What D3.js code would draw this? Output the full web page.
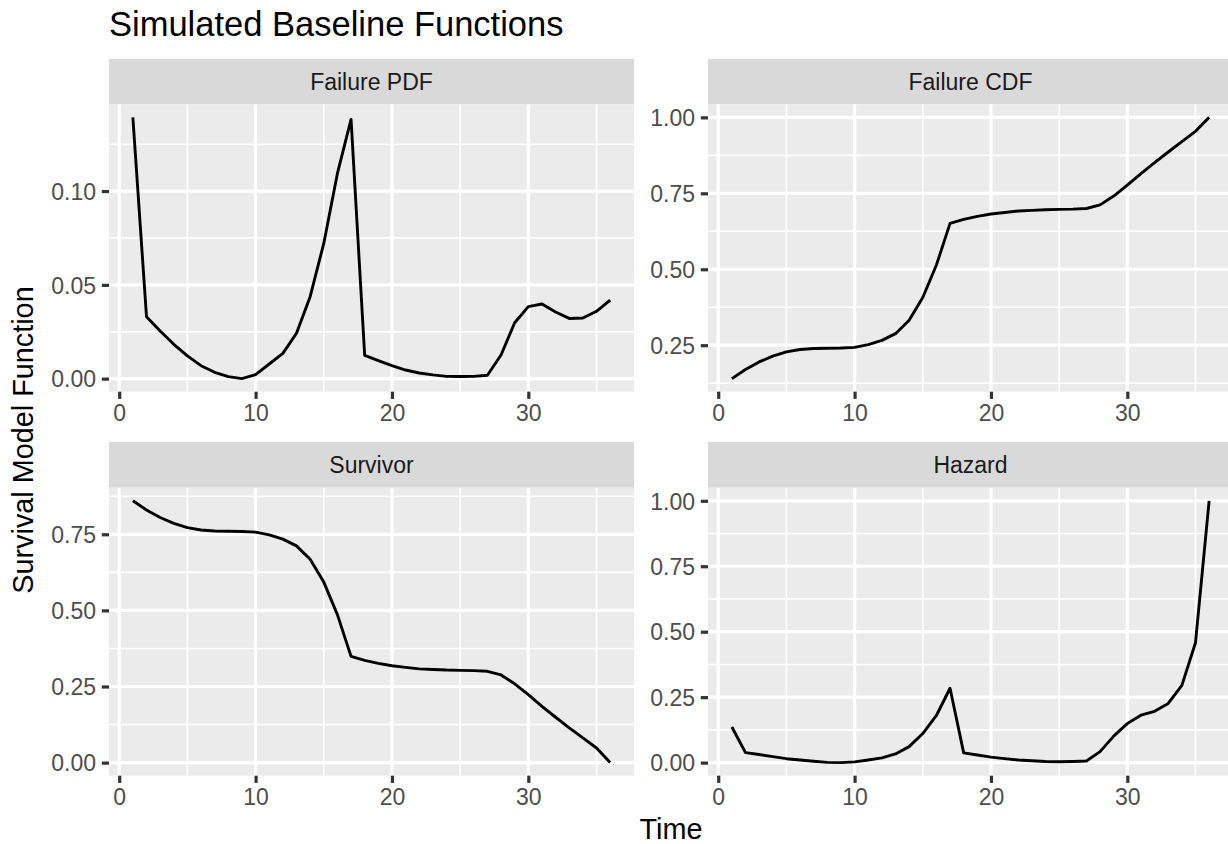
<!DOCTYPE html>
<html>
<head>
<meta charset="utf-8">
<script src="https://cdn.jsdelivr.net/npm/d3@7"></script>
<style>
  body { margin: 0; background: #fff; }
  svg { display: block; font-family: "Liberation Sans", Arial, sans-serif; }
</style>
</head>
<body>
<svg id="chart"></svg>
<script>
// time points
const time = d3.range(1, 37)

// values
const failurePdf = [0.1393, 0.0330, 0.0254, 0.0183, 0.0121, 0.0069, 0.0034, 0.0011, 0.0000, 0.0021,
  0.0078, 0.0135, 0.0242, 0.0437, 0.0721, 0.1094, 0.1382, 0.0124, 0.0096, 0.0069,
  0.0046, 0.0030, 0.0020, 0.0012, 0.0011, 0.0012, 0.0018, 0.0126, 0.0298, 0.0384,
  0.0398, 0.0355, 0.0321, 0.0323, 0.0359, 0.0419]

const failureCdf = [0.140, 0.170, 0.195, 0.214, 0.228, 0.236, 0.239, 0.240, 0.241, 0.243,
  0.252, 0.266, 0.288, 0.332, 0.407, 0.514, 0.651, 0.664, 0.674, 0.682,
  0.687, 0.692, 0.694, 0.696, 0.697, 0.698, 0.700, 0.712, 0.741, 0.777,
  0.815, 0.851, 0.886, 0.920, 0.954, 1.000]

const survivor = [0.860, 0.830, 0.805, 0.786, 0.772, 0.764, 0.761, 0.760, 0.759, 0.757,
  0.748, 0.734, 0.712, 0.668, 0.593, 0.486, 0.349, 0.336, 0.326, 0.318,
  0.313, 0.308, 0.306, 0.304, 0.303, 0.302, 0.300, 0.288, 0.259, 0.223,
  0.185, 0.149, 0.114, 0.081, 0.048, 0.000]

const hazard = [0.136, 0.038, 0.031, 0.023, 0.015, 0.010, 0.005, 0.001, 0.000, 0.003,
  0.010, 0.018, 0.033, 0.061, 0.111, 0.180, 0.284, 0.037, 0.029, 0.021,
  0.015, 0.010, 0.007, 0.004, 0.003, 0.004, 0.006, 0.042, 0.101, 0.149,
  0.181, 0.196, 0.226, 0.295, 0.458, 1.000]

const panelTitles = ['Failure PDF', 'Failure CDF', 'Survivor', 'Hazard']
const xTicks = [0, 10, 20, 30]
const yTicksPdf = [0, 0.05, 0.10]
const yTicksCdf = [0.25, 0.50, 0.75, 1.00]
const yTicksSurv = [0, 0.25, 0.50, 0.75]
const yTicksHaz = [0, 0.25, 0.50, 0.75, 1.00]

const width = 1228, height = 844

// panel layout (ggplot facet_wrap, free y)
const cols = [109, 708]
const panelW = 525
const rows = [{ strip: 59, top: 104.3, bottom: 391.7 }, { strip: 442, top: 487.7, bottom: 775.7 }]

const facets = [
  { title: panelTitles[0], values: failurePdf, ticks: yTicksPdf, col: 0, row: 0 },
  { title: panelTitles[1], values: failureCdf, ticks: yTicksCdf, col: 1, row: 0 },
  { title: panelTitles[2], values: survivor, ticks: yTicksSurv, col: 0, row: 1 },
  { title: panelTitles[3], values: hazard, ticks: yTicksHaz, col: 1, row: 1 }
]

const svg = d3.select('#chart')
  .attr('width', width)
  .attr('height', height)

// ggplot style 5% expansion
function expand(ext) {
  const pad = (ext[1] - ext[0]) * 0.05
  return [ext[0] - pad, ext[1] + pad]
}

// midpoints between majors, extended one step outside
function minorBreaks(major, domain) {
  const step = major[1] - major[0]
  const out = []
  for (let v = major[0] - step / 2; v <= major[major.length - 1] + step; v += step) {
    if (v >= domain[0] && v <= domain[1]) out.push(v)
  }
  return out
}

const fmt = d3.format('.2f')

facets.forEach((f, i) => {
  const x0 = cols[f.col], r = rows[f.row]
  const data = time.map((t, j) => ({ t, v: f.values[j] }))

  const xDom = expand(d3.extent(time))
  const yDom = expand(d3.extent(f.values))

  const x = d3.scaleLinear().domain(xDom).range([x0, x0 + panelW])
  const y = d3.scaleLinear().domain(yDom).range([r.bottom, r.top])

  const g = svg.append('g').attr('class', 'facet')

  g.append('clipPath').attr('id', 'clip' + i)
    .append('rect')
    .attr('x', x0).attr('y', r.top)
    .attr('width', panelW).attr('height', r.bottom - r.top)

  // strip
  g.append('rect')
    .attr('x', x0).attr('y', r.strip)
    .attr('width', panelW).attr('height', r.top - r.strip)
    .attr('fill', '#D9D9D9')

  g.append('text')
    .attr('x', x0 + panelW / 2)
    .attr('y', r.strip + 31)
    .attr('text-anchor', 'middle')
    .attr('font-size', 23)
    .attr('fill', '#1A1A1A')
    .text(f.title)

  // panel background
  g.append('rect')
    .attr('x', x0).attr('y', r.top)
    .attr('width', panelW).attr('height', r.bottom - r.top)
    .attr('fill', '#EBEBEB')

  const grid = g.append('g').attr('clip-path', `url(#clip${i})`)

  grid.selectAll('.ymin')
    .data(minorBreaks(f.ticks, yDom))
    .join('line')
    .attr('x1', x0).attr('x2', x0 + panelW)
    .attr('y1', d => y(d)).attr('y2', d => y(d))
    .attr('stroke', '#fff').attr('stroke-width', 1.6)

  grid.selectAll('.xmin')
    .data(minorBreaks(xTicks, xDom))
    .join('line')
    .attr('x1', d => x(d)).attr('x2', d => x(d))
    .attr('y1', r.top).attr('y2', r.bottom)
    .attr('stroke', '#fff').attr('stroke-width', 1.6)

  grid.selectAll('.ymaj')
    .data(f.ticks)
    .join('line')
    .attr('x1', x0).attr('x2', x0 + panelW)
    .attr('y1', d => y(d)).attr('y2', d => y(d))
    .attr('stroke', '#fff').attr('stroke-width', 3.2)

  grid.selectAll('.xmaj')
    .data(xTicks)
    .join('line')
    .attr('x1', d => x(d)).attr('x2', d => x(d))
    .attr('y1', r.top).attr('y2', r.bottom)
    .attr('stroke', '#fff').attr('stroke-width', 3.2)

  // data line
  g.append('path')
    .datum(data)
    .attr('clip-path', `url(#clip${i})`)
    .attr('fill', 'none')
    .attr('stroke', '#000')
    .attr('stroke-width', 2.9)
    .attr('stroke-linejoin', 'round')
    .attr('d', d3.line().x(d => x(d.t)).y(d => y(d.v)))

  // axes
  const yAxis = d3.axisLeft(y)
    .tickValues(f.ticks)
    .tickSize(7.2)
    .tickPadding(5.8)
    .tickFormat(fmt)

  const xAxis = d3.axisBottom(x)
    .tickValues(xTicks)
    .tickSize(7.2)
    .tickPadding(6)
    .tickFormat(d3.format('d'))

  const ya = g.append('g').attr('transform', `translate(${x0}, 0)`).call(yAxis)
  const xa = g.append('g').attr('transform', `translate(0, ${r.bottom})`).call(xAxis)

  for (const a of [ya, xa]) {
    a.select('.domain').remove()
    a.selectAll('.tick line').attr('stroke', '#333333').attr('stroke-width', 3.2)
    a.selectAll('.tick text')
      .attr('fill', '#4D4D4D')
      .attr('font-size', 23)
      .attr('font-family', '"Liberation Sans", Arial, sans-serif')
  }
  ya.selectAll('.tick text').attr('dy', '0.36em')
  xa.selectAll('.tick text').attr('dy', '0.71em')
})

// title and axis titles
svg.append('text')
  .attr('x', 109).attr('y', 36)
  .attr('font-size', 34.5)
  .attr('fill', '#000')
  .text('Simulated Baseline Functions')

svg.append('text')
  .attr('x', (cols[0] + cols[1] + panelW) / 2)
  .attr('y', 839)
  .attr('text-anchor', 'middle')
  .attr('font-size', 28.8)
  .attr('fill', '#000')
  .text('Time')

svg.append('text')
  .attr('transform', `translate(33, ${(rows[0].top + rows[1].bottom) / 2}) rotate(-90)`)
  .attr('text-anchor', 'middle')
  .attr('font-size', 28.8)
  .attr('fill', '#000')
  .text('Survival Model Function')
</script>
</body>
</html>
